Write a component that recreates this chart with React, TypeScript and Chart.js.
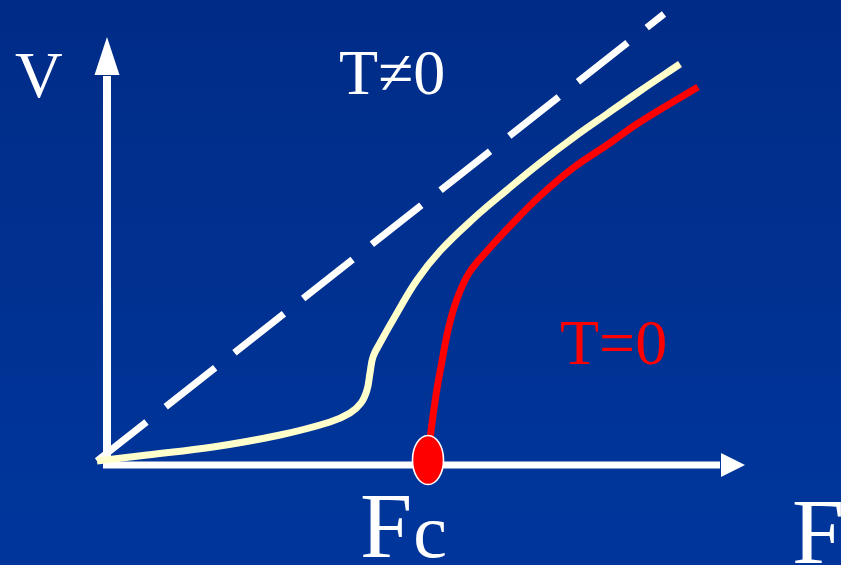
import React, { useEffect, useRef } from "react";
import { Chart, registerables } from "chart.js";

Chart.register(...registerables);

const WIDTH = 841;
const HEIGHT = 565;

// Plot units: F along x, V along y (100 px per unit)
const F_MIN = -0.97;
const F_MAX = 7.44;
const V_MIN = -1.04;
const V_MAX = 4.61;

// Dashed reference line (linear response)
const dashedF = [0, 5.67];
const dashedV = [0, 4.47];

// Finite temperature curve
const warmF = [0, 0.5, 1.16, 1.83, 2.33, 2.53, 2.64, 2.7, 2.73, 2.76, 2.83, 3.0, 3.2, 3.43, 3.76, 4.1, 4.43, 4.76, 5.1, 5.43, 5.83];
const warmV = [0, 0.06, 0.14, 0.26, 0.39, 0.48, 0.58, 0.71, 0.88, 1.04, 1.18, 1.48, 1.81, 2.1, 2.42, 2.71, 2.98, 3.23, 3.47, 3.7, 3.97];

// Zero temperature curve, starting at the critical force
const coldF = [3.31, 3.34, 3.39, 3.45, 3.52, 3.6, 3.72, 3.9, 4.15, 4.43, 4.76, 5.1, 5.43, 6.01];
const coldV = [0.01, 0.3, 0.66, 1.0, 1.35, 1.62, 1.88, 2.1, 2.37, 2.65, 2.93, 3.16, 3.39, 3.74];

// Critical force marker
const criticalF = [3.31];
const criticalV = [0.01];

// Axis arrows
const AXIS_F = 0.1;
const AXIS_V = -0.04;
const AXIS_V_TOP = 4.24;
const AXIS_V_HEAD = 3.86;
const AXIS_V_BOTTOM = -0.07;
const AXIS_F_LEFT = 0.06;
const AXIS_F_TIP = 6.48;
const AXIS_F_HEAD = 6.24;

// Text labels
const labelTexts = ["V", "T≠0", "T=0", "F"];
const labelF = [-0.82, 2.42, 4.63, 6.95];
const labelV = [3.64, 3.67, 0.97, -1.02];
const labelSizes = [66, 64, 64, 94];
const labelColors = ["#ffffff", "#ffffff", "#ff0000", "#ffffff"];

const FC_MAIN = "F";
const FC_SUB = "c";
const fcF = 2.63;
const fcV = -0.96;

const SERIF = '"Liberation Serif", "Times New Roman", serif';

const zip = (xs: number[], ys: number[]) => xs.map((x, i) => ({ x, y: ys[i] }));

function makeEllipse(): HTMLCanvasElement {
  const c = document.createElement("canvas");
  c.width = 36;
  c.height = 54;
  const g = c.getContext("2d")!;
  g.beginPath();
  g.ellipse(18, 27, 15.5, 24.5, 0, 0, Math.PI * 2);
  g.fillStyle = "#ff0000";
  g.fill();
  g.lineWidth = 1.6;
  g.strokeStyle = "#ffffff";
  g.stroke();
  return c;
}

const backdrop = {
  id: "backdrop",
  beforeDraw(chart: any) {
    const { ctx, width, height } = chart;
    const grad = ctx.createLinearGradient(0, 0, 0, height);
    grad.addColorStop(0, "#002c87");
    grad.addColorStop(1, "#00369c");
    ctx.save();
    ctx.fillStyle = grad;
    ctx.fillRect(0, 0, width, height);
    ctx.restore();
  },
};

const arrows = {
  id: "arrows",
  beforeDatasetsDraw(chart: any) {
    const { ctx } = chart;
    const sx = chart.scales.x;
    const sy = chart.scales.y;
    const x0 = sx.getPixelForValue(AXIS_F);
    const y0 = sy.getPixelForValue(AXIS_V);
    ctx.save();
    ctx.fillStyle = "#ffffff";
    ctx.strokeStyle = "#ffffff";
    ctx.lineCap = "butt";

    // vertical axis
    const yHead = sy.getPixelForValue(AXIS_V_HEAD);
    const yTip = sy.getPixelForValue(AXIS_V_TOP);
    ctx.lineWidth = 8;
    ctx.beginPath();
    ctx.moveTo(x0, sy.getPixelForValue(AXIS_V_BOTTOM));
    ctx.lineTo(x0, yHead + 1);
    ctx.stroke();
    ctx.beginPath();
    ctx.moveTo(x0, yTip);
    ctx.lineTo(x0 + 12.5, yHead);
    ctx.lineTo(x0 - 12.5, yHead);
    ctx.closePath();
    ctx.fill();

    // horizontal axis
    const xHead = sx.getPixelForValue(AXIS_F_HEAD);
    const xTip = sx.getPixelForValue(AXIS_F_TIP);
    ctx.lineWidth = 7;
    ctx.beginPath();
    ctx.moveTo(sx.getPixelForValue(AXIS_F_LEFT), y0);
    ctx.lineTo(xHead - 1, y0);
    ctx.stroke();
    ctx.beginPath();
    ctx.moveTo(xTip, y0);
    ctx.lineTo(xHead, y0 - 12);
    ctx.lineTo(xHead, y0 + 12);
    ctx.closePath();
    ctx.fill();
    ctx.restore();
  },
};

const labels = {
  id: "labels",
  afterDatasetsDraw(chart: any) {
    const { ctx } = chart;
    const sx = chart.scales.x;
    const sy = chart.scales.y;
    ctx.save();
    ctx.textAlign = "left";
    ctx.textBaseline = "alphabetic";
    labelTexts.forEach((t, i) => {
      ctx.font = `${labelSizes[i]}px ${SERIF}`;
      ctx.fillStyle = labelColors[i];
      ctx.fillText(t, sx.getPixelForValue(labelF[i]), sy.getPixelForValue(labelV[i]));
    });
    // critical force label
    const fx = sx.getPixelForValue(fcF);
    const fy = sy.getPixelForValue(fcV);
    ctx.fillStyle = "#ffffff";
    ctx.font = `94px ${SERIF}`;
    ctx.fillText(FC_MAIN, fx, fy);
    const w = ctx.measureText(FC_MAIN).width;
    ctx.font = `76px ${SERIF}`;
    ctx.fillText(FC_SUB, fx + w + 1, fy);
    ctx.restore();
  },
};

export default function App() {
  const ref = useRef<HTMLCanvasElement | null>(null);

  useEffect(() => {
    document.body.style.margin = "0";
    const canvas = ref.current;
    if (!canvas) return;
    const marker = makeEllipse();
    const chart = new Chart(canvas, {
      type: "line",
      data: {
        datasets: [
          {
            label: "Fc",
            data: zip(criticalF, criticalV),
            showLine: false,
            pointStyle: marker as any,
            pointRadius: 20,
            borderWidth: 0,
          },
          {
            label: "T=0",
            data: zip(coldF, coldV),
            borderColor: "#ff0000",
            borderWidth: 7,
            pointRadius: 0,
            tension: 0.4,
            borderCapStyle: "butt",
            borderJoinStyle: "round",
          },
          {
            label: "T≠0",
            data: zip(warmF, warmV),
            borderColor: "#ffffcc",
            borderWidth: 7,
            pointRadius: 0,
            tension: 0.4,
            borderCapStyle: "butt",
            borderJoinStyle: "round",
          },
          {
            label: "linear",
            data: zip(dashedF, dashedV),
            borderColor: "#ffffff",
            borderWidth: 7,
            borderDash: [63, 24.5],
            pointRadius: 0,
            borderCapStyle: "butt",
          },
        ],
      },
      options: {
        responsive: false,
        animation: false,
        events: [],
        layout: { padding: 0, autoPadding: false },
        plugins: {
          legend: { display: false },
          tooltip: { enabled: false },
          title: { display: false },
        },
        scales: {
          x: { type: "linear", min: F_MIN, max: F_MAX, display: false },
          y: { type: "linear", min: V_MIN, max: V_MAX, display: false },
        },
      },
      plugins: [backdrop, arrows, labels],
    });
    return () => chart.destroy();
  }, []);

  return (
    <canvas
      ref={ref}
      width={WIDTH}
      height={HEIGHT}
      style={{ display: "block", width: WIDTH, height: HEIGHT }}
    />
  );
}
